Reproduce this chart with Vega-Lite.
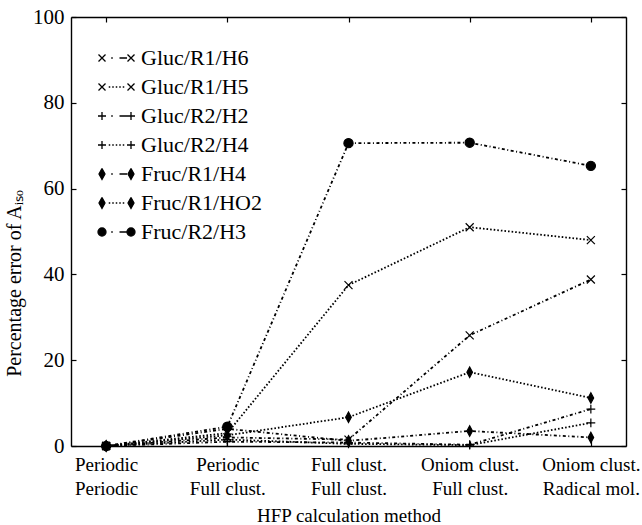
{
  "$schema": "https://vega.github.io/schema/vega-lite/v6.json",
  "autosize": "none",
  "width": 555,
  "height": 429,
  "padding": {"left": 71, "top": 17, "right": 16, "bottom": 79},
  "background": "white",
  "config": {
    "font": "Liberation Serif",
    "view": {"stroke": null},
    "axis": {"labelFont": "Liberation Serif", "titleFont": "Liberation Serif", "labelColor": "black", "titleColor": "black", "domainColor": "black", "tickColor": "black", "grid": false, "labelFontSize": 19, "titleFontSize": 19, "titleFontWeight": "normal", "domainWidth": 1.4, "tickWidth": 1.2}
  },
  "data": {"values": [
    {"series": "Gluc/R1/H6", "method": "Periodic|Periodic", "value": 0},
    {"series": "Gluc/R1/H6", "method": "Periodic|Full clust.", "value": 2.0},
    {"series": "Gluc/R1/H6", "method": "Full clust.|Full clust.", "value": 1.5},
    {"series": "Gluc/R1/H6", "method": "Oniom clust.|Full clust.", "value": 25.8},
    {"series": "Gluc/R1/H6", "method": "Oniom clust.|Radical mol.", "value": 38.8},
    {"series": "Gluc/R1/H5", "method": "Periodic|Periodic", "value": 0},
    {"series": "Gluc/R1/H5", "method": "Periodic|Full clust.", "value": 3.0},
    {"series": "Gluc/R1/H5", "method": "Full clust.|Full clust.", "value": 37.5},
    {"series": "Gluc/R1/H5", "method": "Oniom clust.|Full clust.", "value": 51.0},
    {"series": "Gluc/R1/H5", "method": "Oniom clust.|Radical mol.", "value": 48.0},
    {"series": "Gluc/R2/H2", "method": "Periodic|Periodic", "value": 0},
    {"series": "Gluc/R2/H2", "method": "Periodic|Full clust.", "value": 1.0},
    {"series": "Gluc/R2/H2", "method": "Full clust.|Full clust.", "value": 0.8},
    {"series": "Gluc/R2/H2", "method": "Oniom clust.|Full clust.", "value": 0.3},
    {"series": "Gluc/R2/H2", "method": "Oniom clust.|Radical mol.", "value": 8.6},
    {"series": "Gluc/R2/H4", "method": "Periodic|Periodic", "value": 0},
    {"series": "Gluc/R2/H4", "method": "Periodic|Full clust.", "value": 1.5},
    {"series": "Gluc/R2/H4", "method": "Full clust.|Full clust.", "value": 0.5},
    {"series": "Gluc/R2/H4", "method": "Oniom clust.|Full clust.", "value": 0.2},
    {"series": "Gluc/R2/H4", "method": "Oniom clust.|Radical mol.", "value": 5.4},
    {"series": "Fruc/R1/H4", "method": "Periodic|Periodic", "value": 0},
    {"series": "Fruc/R1/H4", "method": "Periodic|Full clust.", "value": 4.0},
    {"series": "Fruc/R1/H4", "method": "Full clust.|Full clust.", "value": 1.2},
    {"series": "Fruc/R1/H4", "method": "Oniom clust.|Full clust.", "value": 3.5},
    {"series": "Fruc/R1/H4", "method": "Oniom clust.|Radical mol.", "value": 2.0},
    {"series": "Fruc/R1/HO2", "method": "Periodic|Periodic", "value": 0},
    {"series": "Fruc/R1/HO2", "method": "Periodic|Full clust.", "value": 2.5},
    {"series": "Fruc/R1/HO2", "method": "Full clust.|Full clust.", "value": 6.7},
    {"series": "Fruc/R1/HO2", "method": "Oniom clust.|Full clust.", "value": 17.2},
    {"series": "Fruc/R1/HO2", "method": "Oniom clust.|Radical mol.", "value": 11.2},
    {"series": "Fruc/R2/H3", "method": "Periodic|Periodic", "value": 0},
    {"series": "Fruc/R2/H3", "method": "Periodic|Full clust.", "value": 4.5},
    {"series": "Fruc/R2/H3", "method": "Full clust.|Full clust.", "value": 70.6},
    {"series": "Fruc/R2/H3", "method": "Oniom clust.|Full clust.", "value": 70.7},
    {"series": "Fruc/R2/H3", "method": "Oniom clust.|Radical mol.", "value": 65.3}
  ]},
  "resolve": {"axis": {"x": "independent", "y": "independent"}},
  "layer": [
    {
      "mark": {"type": "line", "strokeWidth": 1.8},
      "encoding": {
        "x": {"field": "method", "type": "nominal", "sort": null,
              "scale": {"type": "point", "padding": 0.29},
              "axis": {"orient": "bottom", "labelAngle": 0, "labelExpr": "split(datum.label, '|')", "labelLineHeight": 24, "labelPadding": 14, "tickSize": -5, "title": "HFP calculation method", "titlePadding": 8}},
        "y": {"field": "value", "type": "quantitative",
              "scale": {"domain": [0, 100], "nice": false, "zero": true},
              "axis": {"orient": "left", "values": [0, 20, 40, 60, 80, 100], "tickSize": -5, "labelPadding": 12, "labelFontSize": 21, "title": "Percentage error of Aᵢₛₒ", "titleFontSize": 20, "titleY": 266, "titlePadding": 8}},
        "detail": {"field": "series"},
        "strokeDash": {"field": "series", "type": "nominal",
          "scale": {"domain": ["Fruc/R2/H3", "Fruc/R1/HO2", "Fruc/R1/H4", "Gluc/R2/H4", "Gluc/R2/H2", "Gluc/R1/H5", "Gluc/R1/H6"],
                    "range": [[3, 2.5, 1, 2.5], [1.6, 2], [3, 2.5, 1, 2.5], [1.6, 2], [3, 2.5, 1, 2.5], [1.6, 2], [3, 2.5, 1, 2.5]]},
          "legend": null},
        "color": {"field": "series", "type": "nominal",
          "scale": {"domain": ["Gluc/R1/H6", "Gluc/R1/H5", "Gluc/R2/H2", "Gluc/R2/H4", "Fruc/R1/H4", "Fruc/R1/HO2", "Fruc/R2/H3"],
                    "range": ["black", "black", "black", "black", "black", "black", "black"]},
          "legend": {
            "title": null, "orient": "none", "legendX": 34.5, "legendY": 30, "padding": 0,
            "symbolSize": 100, "labelOffset": 13.5, "rowPadding": 7,
            "labelFont": "Liberation Serif", "labelFontSize": 22, "labelColor": "black",
            "encode": {"symbols": {"update": {
              "shape": {"signal": "datum.value === 'Gluc/R1/H6' ? 'M-3.6,-0.7L-2.2,0.7M-2.2,-0.7L-3.6,0.7M-1.05,0L-0.75,0M0.6,0L2.1,0M2.2,-0.7L3.6,0.7M3.6,-0.7L2.2,0.7' : datum.value === 'Gluc/R1/H5' ? 'M-3.6,-0.7L-2.2,0.7M-2.2,-0.7L-3.6,0.7M-1.55,0L-1.25,0M-0.85,0L-0.55,0M-0.15,0L0.15,0M0.55,0L0.85,0M1.25,0L1.55,0M2.2,-0.7L3.6,0.7M3.6,-0.7L2.2,0.7' : datum.value === 'Gluc/R2/H2' ? 'M-3.7,0L-2.1,0M-2.9,-0.8L-2.9,0.8M-1.05,0L-0.75,0M0.6,0L2.1,0M2.1,0L3.7,0M2.9,-0.8L2.9,0.8' : datum.value === 'Gluc/R2/H4' ? 'M-3.7,0L-2.1,0M-2.9,-0.8L-2.9,0.8M-1.55,0L-1.25,0M-0.85,0L-0.55,0M-0.15,0L0.15,0M0.55,0L0.85,0M1.25,0L1.55,0M2.1,0L3.7,0M2.9,-0.8L2.9,0.8' : datum.value === 'Fruc/R1/H4' ? 'M-2.9,-1.1L-2.3,0L-2.9,1.1L-3.5,0ZM-1.05,0L-0.75,0M0.6,0L2.1,0M2.9,-1.1L3.5,0L2.9,1.1L2.3,0Z' : datum.value === 'Fruc/R1/HO2' ? 'M-2.9,-1.1L-2.3,0L-2.9,1.1L-3.5,0ZM-1.55,0L-1.25,0M-0.85,0L-0.55,0M-0.15,0L0.15,0M0.55,0L0.85,0M1.25,0L1.55,0M2.9,-1.1L3.5,0L2.9,1.1L2.3,0Z' : 'M-2.1,0A0.8,0.8,0,1,1,-3.7,0A0.8,0.8,0,1,1,-2.1,0ZM-1.05,0L-0.75,0M0.6,0L2.1,0M3.7,0A0.8,0.8,0,1,1,2.1,0A0.8,0.8,0,1,1,3.7,0Z'"},
              "size": {"value": 100},
              "stroke": {"value": "black"},
              "fill": {"value": "black"},
              "strokeWidth": {"value": 1.3},
              "strokeDash": {"value": [100, 0]},
              "opacity": {"value": 1}
            }}}
          }}
      }
    },
    {
      "mark": {"type": "point", "filled": true, "color": "black", "stroke": "black", "strokeWidth": 1.2, "size": 64, "opacity": 1},
      "encoding": {
        "x": {"field": "method", "type": "nominal", "sort": null,
              "scale": {"type": "point", "padding": 0.29},
              "axis": {"orient": "top", "labels": false, "title": null, "tickSize": -5}},
        "y": {"field": "value", "type": "quantitative",
              "scale": {"domain": [0, 100], "nice": false, "zero": true},
              "axis": {"orient": "right", "labels": false, "title": null, "values": [0, 20, 40, 60, 80, 100], "tickSize": -5}},
        "shape": {"field": "series", "type": "nominal",
          "scale": {"domain": ["Fruc/R2/H3", "Fruc/R1/HO2", "Fruc/R1/H4", "Gluc/R2/H4", "Gluc/R2/H2", "Gluc/R1/H5", "Gluc/R1/H6"],
                    "range": ["M1.15,0A1.15,1.15,0,1,1,-1.15,0A1.15,1.15,0,1,1,1.15,0Z", "M0,-1.3L0.7,0L0,1.3L-0.7,0Z", "M0,-1.3L0.7,0L0,1.3L-0.7,0Z", "M-1.1,0L1.1,0M0,-1.1L0,1.1", "M-1.1,0L1.1,0M0,-1.1L0,1.1", "M-1,-1L1,1M1,-1L-1,1", "M-1,-1L1,1M1,-1L-1,1"]},
          "legend": null}
      }
    }
  ]
}
